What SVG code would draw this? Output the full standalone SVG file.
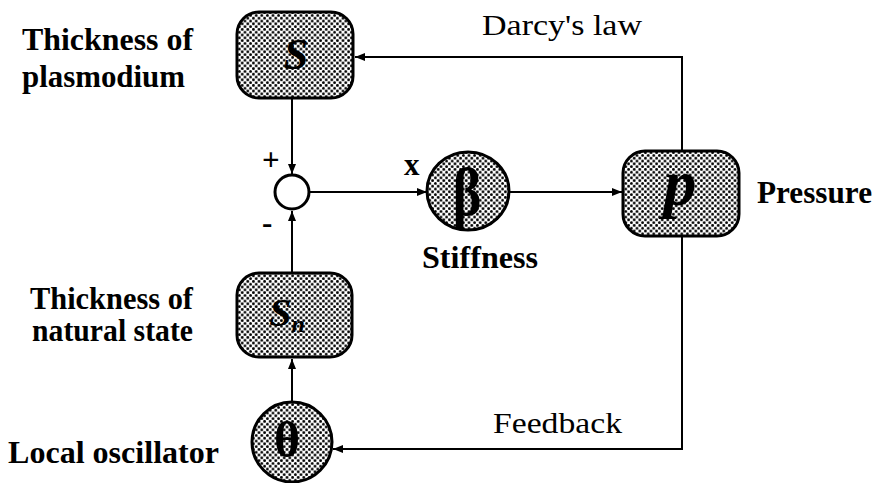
<svg xmlns="http://www.w3.org/2000/svg" width="875" height="483" viewBox="0 0 875 483">
<style>
.node{fill:url(#dots);stroke:#000;stroke-width:3}
.sum{fill:#fff;stroke:#000;stroke-width:3}
.conn{fill:none;stroke:#000;stroke-width:2;marker-end:url(#ah)}
.lb{font-family:"Liberation Serif",serif;font-weight:bold;font-size:31px;fill:#000}
.lr{font-family:"Liberation Serif",serif;font-size:30px;fill:#000}
.sym{font-family:"Liberation Serif",serif;font-weight:bold;fill:#000;text-anchor:middle}
</style>
<defs>
<pattern id="dots" width="5.6" height="5.6" patternUnits="userSpaceOnUse">
<rect width="5.6" height="5.6" fill="#fff"/>
<circle cx="1.4" cy="1.4" r="1.4" fill="#000"/>
<circle cx="4.2" cy="4.2" r="1.4" fill="#000"/>
</pattern>
<marker id="ah" viewBox="0 0 10 8" refX="10" refY="4" markerWidth="11" markerHeight="8" markerUnits="userSpaceOnUse" orient="auto">
<path d="M0,0 L10,4 L0,8 Z" fill="#000"/>
</marker>
</defs>
<g id="connectors">
<path class="conn" d="M292,99 L292,174"/>
<path class="conn" d="M292,273 L292,211"/>
<path class="conn" d="M310,192 L427,192"/>
<path class="conn" d="M509,192 L622,192"/>
<path class="conn" d="M682,151 L682,57 L355,57"/>
<path class="conn" d="M682,236 L682,449 L333,449"/>
<path class="conn" d="M292,402 L292,359"/>
</g>
<g id="node-s">
<rect class="node" x="237" y="12" width="116" height="86" rx="22"/>
<text class="sym" x="296" y="69" font-size="44" font-style="italic">S</text>
</g>
<g id="node-sum">
<circle class="sum" cx="292" cy="192" r="17"/>
<text class="lb" x="262" y="170" font-size="28">+</text>
<text class="lb" x="262" y="233" font-size="38">-</text>
</g>
<g id="node-beta">
<ellipse class="node" cx="468" cy="191" rx="41" ry="39"/>
<text class="lb" x="404" y="175" font-size="26">x</text>
<text class="sym" x="467" y="215" font-size="68" font-weight="normal" font-family="'DejaVu Serif',serif" transform="translate(467,0) scale(0.8,1) translate(-467,0)">β</text>
</g>
<g id="node-p">
<rect class="node" x="623" y="151" width="116" height="85" rx="22"/>
<text class="sym" x="680" y="205" font-size="66" font-style="italic">p</text>
</g>
<g id="node-sn">
<rect class="node" x="237" y="273" width="115" height="84" rx="22"/>
<text class="sym" x="287" y="326" font-size="40" font-style="italic">S<tspan font-size="24" dy="6">n</tspan></text>
</g>
<g id="node-theta">
<circle class="node" cx="292" cy="442" r="40"/>
<text class="sym" x="287" y="457" font-size="50">θ</text>
</g>
<g id="labels">
<text class="lb" x="22" y="50" textLength="171" lengthAdjust="spacingAndGlyphs">Thickness of</text>
<text class="lb" x="22" y="87" textLength="163" lengthAdjust="spacingAndGlyphs">plasmodium</text>
<text class="lr" x="482" y="35" textLength="160" lengthAdjust="spacingAndGlyphs">Darcy's law</text>
<text class="lb" x="757" y="203" textLength="115" lengthAdjust="spacingAndGlyphs">Pressure</text>
<text class="lb" x="422" y="268" textLength="116" lengthAdjust="spacingAndGlyphs">Stiffness</text>
<text class="lb" x="30" y="309" font-size="26" textLength="163" lengthAdjust="spacingAndGlyphs">Thickness of</text>
<text class="lb" x="32" y="341" font-size="26" textLength="161" lengthAdjust="spacingAndGlyphs">natural state</text>
<text class="lb" x="8" y="463" textLength="211" lengthAdjust="spacingAndGlyphs">Local oscillator</text>
<text class="lr" x="493" y="433" textLength="129" lengthAdjust="spacingAndGlyphs">Feedback</text>
</g>
</svg>
